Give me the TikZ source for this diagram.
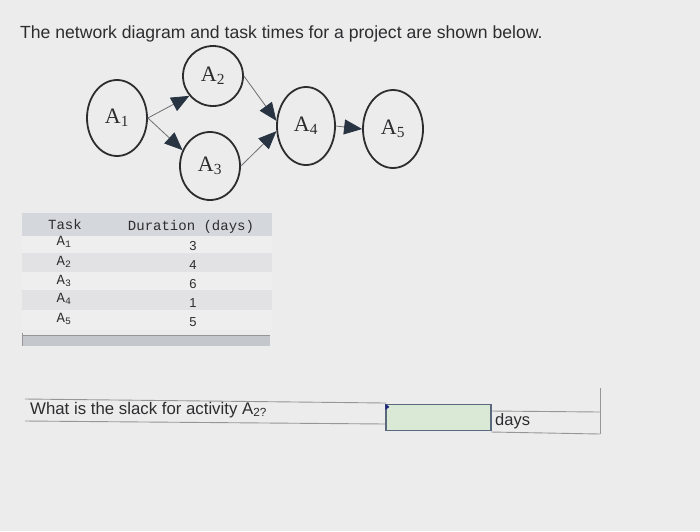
\documentclass[tikz,border=0pt]{standalone}
\usepackage{fontspec}
\setmainfont{Liberation Sans}
\newfontfamily\serifA{Liberation Serif}
\newfontfamily\monoA{Liberation Mono}
\usetikzlibrary{shapes.geometric,arrows.meta}
\definecolor{bgc}{RGB}{236,236,236}
\definecolor{inkc}{RGB}{45,45,48}
\definecolor{arrc}{RGB}{40,52,66}
\definecolor{linec}{RGB}{110,110,115}
\definecolor{hdrc}{RGB}{212,215,220}
\definecolor{rowa}{RGB}{238,238,238}
\definecolor{rowb}{RGB}{226,226,228}
\definecolor{barc}{RGB}{196,200,205}
\definecolor{greenc}{RGB}{218,232,214}
\definecolor{boxc}{RGB}{90,105,125}
\definecolor{rulec}{RGB}{150,150,152}
\tikzset{
  evt/.style={ellipse, draw=inkc, line width=1.8pt, inner sep=0pt, minimum width=60pt, minimum height=76pt, font=\serifA\fontsize{22}{24}\selectfont, text=inkc},
  arr/.style={draw=linec, line width=0.8pt, -{Triangle[length=18pt,width=15pt,fill=arrc,color=arrc]}},
  monot/.style={font=\monoA\fontsize{14}{16}\selectfont, text=inkc, inner sep=0pt},
  numt/.style={font=\fontsize{13}{15}\selectfont, text=inkc, inner sep=0pt},
  rulel/.style={draw=rulec, line width=0.9pt}
}
\newcommand{\sbs}[1]{\textsubscript{#1}}
\begin{document}
\begin{tikzpicture}[x=1pt,y=-1pt]
\useasboundingbox (0,0) rectangle (700,531);
\fill[bgc] (0,0) rectangle (700,531);
% title
\node[anchor=west, inner sep=0pt, text=inkc, font=\fontsize{17.6}{20}\selectfont] (title) at (20,34) {The network diagram and task times for a project are shown below.};
% network
\node[evt] (A1) at (117,118) {A\sbs{1}};
\node[evt, minimum height=60pt] (A2) at (213,76) {A\sbs{2}};
\node[evt, minimum height=68pt] (A3) at (210,166) {A\sbs{3}};
\node[evt, minimum width=58pt, minimum height=78pt] (A4) at (306,126) {A\sbs{4}};
\node[evt, minimum height=78pt] (A5) at (393,129) {A\sbs{5}};
\draw[arr] (A1.east) -- (A2.220);
\draw[arr] (A1.east) -- (A3.150);
\draw[arr] (A2.east) -- (A4.170);
\draw[arr] (A3.east) -- (A4.190);
\draw[arr] (A4.east) -- (A5.west);
% table
\fill[hdrc] (22,213) rectangle (272,236);
\fill[rowa] (22,236) rectangle (272,253);
\fill[rowb] (22,253) rectangle (272,272);
\fill[rowa] (22,272) rectangle (272,290);
\fill[rowb] (22,290) rectangle (272,310);
\fill[rowa] (22,310) rectangle (272,330);
\fill[barc] (22,335) rectangle (270,346);
\draw[rulec, line width=0.8pt] (22,335) -- (270,335);
\draw[rulec, line width=0.8pt] (22,333) -- (22,346);
\node[monot] (tk) at (65,224) {Task};
\node[monot] (du) at (191,227) {Duration (days)};
\node[monot] (t1) at (64,242) {A\sbs{1}};
\node[monot] (t2) at (64,262) {A\sbs{2}};
\node[monot] (t3) at (64,281) {A\sbs{3}};
\node[monot] (t4) at (64,299) {A\sbs{4}};
\node[monot] (t5) at (64,319) {A\sbs{5}};
\node[numt] (d1) at (193,246) {3};
\node[numt] (d2) at (193,265) {4};
\node[numt] (d3) at (193,284) {6};
\node[numt] (d4) at (193,303) {1};
\node[numt] (d5) at (193,322) {5};
% question
\draw[rulel] (25,399) -- (386,403);
\draw[rulel] (25,421) -- (386,424);
\draw[rulel] (491,411) -- (600,412);
\draw[rulel] (491,432) -- (600,434);
\draw[rulel] (600,388) -- (600,434);
\node[anchor=west, inner sep=0pt, text=inkc, font=\fontsize{16.8}{19}\selectfont] (q) at (30,410) {What is the slack for activity A\sbs{2?}};
\node[draw=boxc, line width=1.2pt, fill=greenc, minimum width=105pt, minimum height=26pt, inner sep=0pt] (ans) at (438.5,417.5) {};
\fill[arrc!70!blue] (ans.north west) -- ++(4,3) -- ++(-4,3) -- cycle;
\node[anchor=west, inner sep=0pt, text=inkc, font=\fontsize{16.5}{18}\selectfont] (days) at (495,421) {days};
\end{tikzpicture}
\end{document}
